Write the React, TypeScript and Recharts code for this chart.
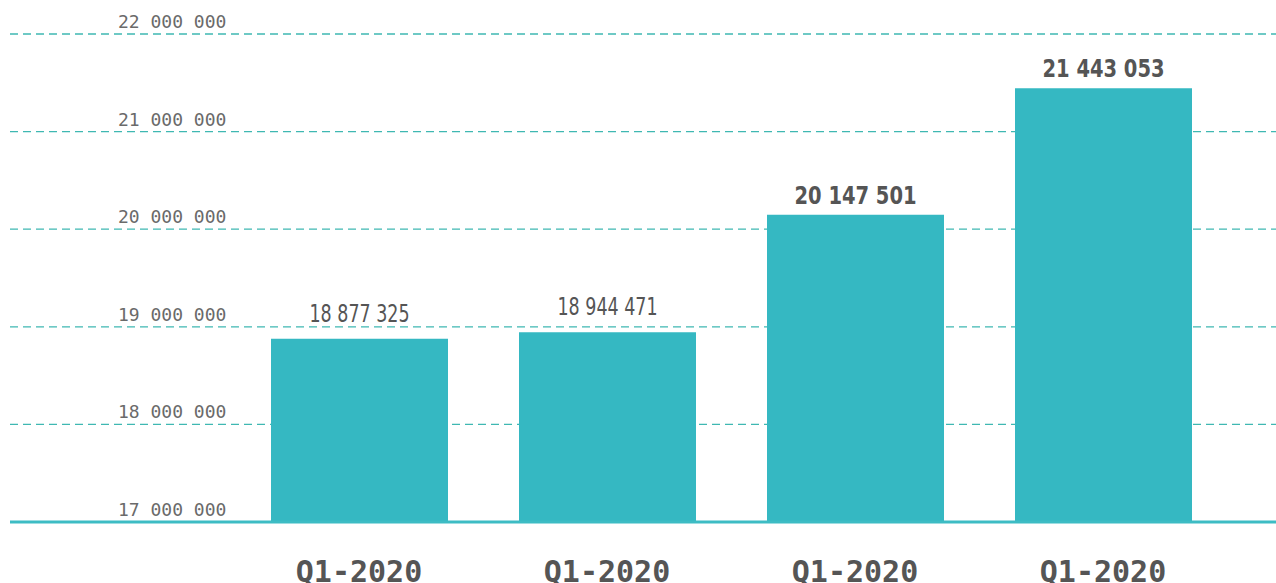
import React from "react"
import { BarChart, Bar, XAxis, YAxis, CartesianGrid, LabelList } from "recharts"

const quarters = ["Q1-2020", "Q1-2020", "Q1-2020", "Q1-2020"]
const totals = [18877325, 18944471, 20147501, 21443053]
const yTicks = [17000000, 18000000, 19000000, 20000000, 21000000, 22000000]

const data = quarters.map((q, i) => ({ quarter: q, total: totals[i] }))

const TEAL = "#35b8c2"
const fmt = (v: number) => String(v).replace(/\B(?=(\d{3})+(?!\d))/g, " ")

function YTick({ y, payload }: any) {
  return (
    <text x={118} y={y - 6} textAnchor="start" fill="#6a6a6a"
      style={{ fontFamily: "'DejaVu Sans Mono', monospace", fontSize: 18 }}>
      {fmt(payload.value)}
    </text>
  )
}

function XTick({ x, y, payload }: any) {
  return (
    <text x={x} y={y + 52} textAnchor="middle" fill="#555"
      style={{ fontFamily: "'DejaVu Sans Mono', monospace", fontSize: 30, fontWeight: "bold" }}>
      {payload.value}
    </text>
  )
}

// first two labels are set lighter and narrower than the last two
function BarValue({ x, y, width, value, index }: any) {
  const bold = index >= 2
  return (
    <text x={x + width / 2} y={y - (bold ? 11 : 17)} textAnchor="middle" fill="#555"
      textLength={bold ? 122 : 100} lengthAdjust="spacingAndGlyphs"
      style={{
        fontFamily: "'DejaVu Sans Condensed', sans-serif",
        fontSize: 24,
        fontWeight: bold ? "bold" : 500,
      }}>
      {fmt(value)}
    </text>
  )
}

export default function App() {
  return (
    <div style={{ position: "absolute", top: 0, left: 0, width: 1276, height: 583, overflow: "hidden" }}>
      <BarChart width={1276} height={583} data={data} margin={{ top: 34, right: 0, left: 0, bottom: 0 }}>
        <CartesianGrid vertical={false} stroke="#3fb8b2" strokeDasharray="8 5" strokeWidth={1.3} />
        <YAxis width={10} domain={[17000000, 22000000]} ticks={yTicks} axisLine={false} tickLine={false}
          tick={<YTick />} allowDataOverflow />
        <XAxis dataKey="quarter" height={61} axisLine={{ stroke: "#3dbcc4", strokeWidth: 3 }} tickLine={false}
          tick={<XTick />} padding={{ left: 225, right: 49 }} interval={0} />
        <Bar dataKey="total" fill={TEAL} barSize={177} isAnimationActive={false}>
          <LabelList dataKey="total" content={<BarValue />} />
        </Bar>
      </BarChart>
    </div>
  )
}
